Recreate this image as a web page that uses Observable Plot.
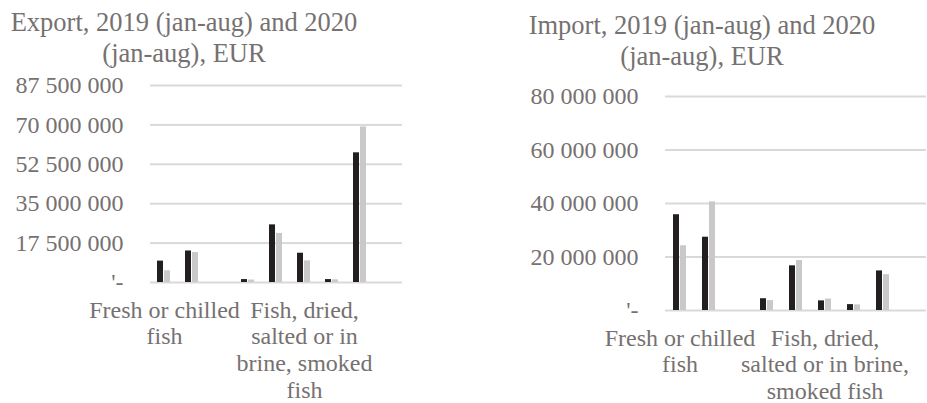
<!DOCTYPE html>
<html><head><meta charset="utf-8">
<script src="https://cdn.jsdelivr.net/npm/d3@7"></script>
<script src="https://cdn.jsdelivr.net/npm/@observablehq/plot@0.6"></script>
<style>
body{margin:0;background:#fff;}
#wrap{position:relative;width:927px;height:403px;overflow:hidden;font-family:"Liberation Serif","Times New Roman",serif;color:#767171;background:#fff;}
.title{position:absolute;width:400px;font-size:26.5px;line-height:30.5px;text-align:center;white-space:nowrap;}
.chart{position:absolute;top:0;}
.chart svg, .chart svg text{font-family:"Liberation Serif","Times New Roman",serif !important;}
.chart svg{font-size:24px !important;}
</style></head><body>
<div id="wrap">
  <div class="title" style="left:-16px;top:7px">Export, 2019 (jan-aug) and 2020<br>(jan-aug), EUR</div>
  <div class="title" style="left:502px;top:10px">Import, 2019 (jan-aug) and 2020<br>(jan-aug), EUR</div>
  <div class="chart" id="c1" style="left:0"></div>
  <div class="chart" id="c2" style="left:463px"></div>
</div>
<script>
// Categories (only the 1st and 6th are labelled in the reference)
const categories = ["Fresh or chilled fish", "Group 2", "Group 3", "Group 4", "Group 5",
  "Fish, dried, salted or in brine, smoked fish", "Group 7", "Group 8", "Group 9"];
const years = ["2019", "2020"];

const export2019 = [9.5e6, 14.0e6, 0, 1.3e6, 25.6e6, 13.0e6, 1.3e6, 57.6e6, 0];
const export2020 = [5.2e6, 13.3e6, 0, 1.1e6, 21.8e6, 9.6e6, 1.2e6, 69.1e6, 0];
const import2019 = [35.8e6, 27.4e6, 0, 4.4e6, 16.7e6, 3.6e6, 2.2e6, 14.8e6, 0];
const import2020 = [24.2e6, 40.6e6, 0, 3.7e6, 18.7e6, 4.3e6, 2.1e6, 13.4e6, 0];

const exportTicks = [0, 17500000, 35000000, 52500000, 70000000, 87500000];
const importTicks = [0, 20000000, 40000000, 60000000, 80000000];

const exportCatLabels = [
  {category: categories[0], text: "Fresh or chilled\nfish"},
  {category: categories[5], text: "Fish, dried,\nsalted or in\nbrine, smoked\nfish"}
];
const importCatLabels = [
  {category: categories[0], text: "Fresh or chilled\nfish"},
  {category: categories[5], text: "Fish, dried,\nsalted or in brine,\nsmoked fish"}
];

function rows(a, b) {
  return categories.flatMap((c, i) => [
    {category: c, year: years[0], value: a[i]},
    {category: c, year: years[1], value: b[i]}
  ]);
}
const fmt = d => d === 0 ? "'-" : d3.format(",")(d).replace(/,/g, " ");

function chart({data, ticks, labels, width, marginLeft, marginRight, marginTop, marginBottom}) {
  return Plot.plot({
    width, height: 403, marginLeft, marginRight, marginTop, marginBottom,
    style: "font-family: 'Liberation Serif', serif; font-size: 24px; color: #767171; background: transparent; overflow: visible;",
    fx: {domain: categories, padding: 0, axis: null, label: null},
    x: {domain: years, paddingInner: 0.1, paddingOuter: 1, axis: null},
    y: {domain: [0, ticks[ticks.length - 1]], ticks, tickSize: 0, tickPadding: 27, tickFormat: fmt, label: null},
    color: {domain: years, range: ["#231f20", "#c9c9c9"]},
    marks: [
      Plot.ruleY(ticks, {stroke: "#d9d9d9", strokeWidth: 2}),
      Plot.barY(data, {fx: "category", x: "year", y: "value", fill: "year"}),
      Plot.text(labels, {fx: "category", text: "text", frameAnchor: "bottom", lineAnchor: "top", dy: 16, lineHeight: 1.12, fontSize: 24, fontFamily: "Liberation Serif", fill: "#767171"})
    ]
  });
}

document.getElementById("c1").append(chart({
  data: rows(export2019, export2020), ticks: exportTicks, labels: exportCatLabels,
  width: 463, marginLeft: 146, marginRight: 57, marginTop: 85, marginBottom: 121
}));
document.getElementById("c2").append(chart({
  data: rows(import2019, import2020), ticks: importTicks, labels: importCatLabels,
  width: 464, marginLeft: 201, marginRight: 0, marginTop: 96, marginBottom: 93
}));
</script>
</body></html>
